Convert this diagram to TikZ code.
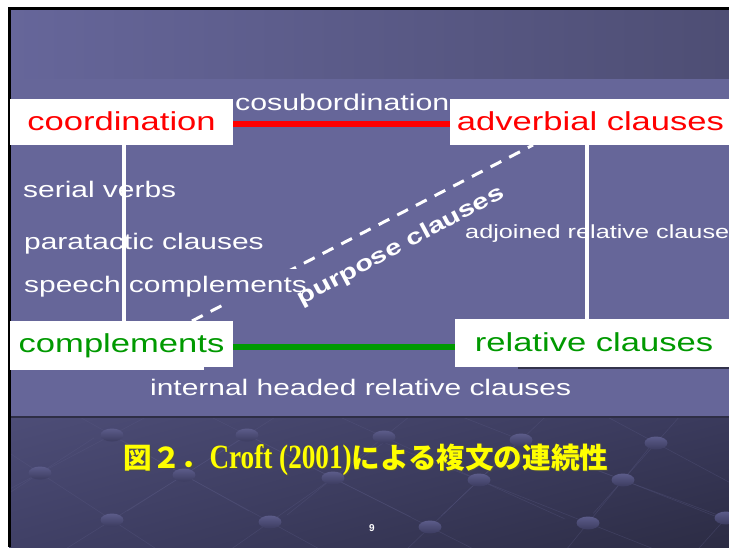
\documentclass[tikz,border=0pt]{standalone}
\usepackage{graphicx}
\usepackage{fontspec}
\setmainfont{Liberation Sans}
\newfontfamily\wsans[FakeStretch=1.33]{Liberation Sans}
\newfontfamily\cjk{Noto Sans CJK JP}
\newfontfamily\tserif[FakeStretch=0.8]{Liberation Serif}
\usetikzlibrary{calc,shadings}
\definecolor{panel}{HTML}{666699}
\definecolor{bandL}{HTML}{66669A}
\definecolor{bandR}{HTML}{4E4E74}
\definecolor{botUL}{HTML}{4D4D77}
\definecolor{botUR}{HTML}{3A3A5C}
\definecolor{botLL}{HTML}{404066}
\definecolor{botLR}{HTML}{2C2C44}
\definecolor{dotL}{HTML}{5C5C8A}
\definecolor{dotD}{HTML}{3C3C60}
\definecolor{gridln}{HTML}{5A5A84}
\definecolor{myred}{HTML}{FF0000}
\definecolor{mygreen}{HTML}{009900}
\definecolor{ttl}{HTML}{FFFF00}
\tikzset{
  boxlbl/.style={fill=white, inner sep=0pt, minimum height=46pt, text height=20pt, text depth=3pt, font=\wsans\fontsize{26}{30}\selectfont},
  wlbl/.style={text=white, inner sep=0pt, anchor=base west, font=\wsans\fontsize{22.5}{27}\selectfont},
  vline/.style={draw=white, line width=3.5pt},
  dashline/.style={draw=white, line width=3pt, dash pattern=on 12pt off 9pt},
  dotball/.style={top color=dotL, bottom color=dotD},
}
\begin{document}
\begin{tikzpicture}[x=1pt,y=-1pt]
\useasboundingbox (0,0) rectangle (729,547);
\fill[white] (0,0) rectangle (729,547);
% slide background
\shade[left color=bandL, right color=bandR] (9,8) rectangle (729,79);
\fill[panel] (9,79) rectangle (729,417);
\shade[upper left=botUL, upper right=botUR, lower left=botLL, lower right=botLR] (9,417) rectangle (729,547);
\fill[black!55!panel] (9,416) rectangle (729,417.5);
% lattice lines and dots in the lower band
\begin{scope}
\clip (9,418) rectangle (729,547);
\foreach \ax/\ay/\bx/\by in {112/435/184/475, 184/475/270/522, 247/435/333/478, 333/478/430/527,
  384/437/479/480, 479/480/588/523, 521/440/623/480, 623/480/726/518, 40/473/112/520, 656/443/740/488,
  247/435/184/475, 184/475/112/520, 384/437/333/478, 333/478/270/522, 521/440/479/480, 479/480/430/527,
  656/443/623/480, 623/480/588/523, 112/435/40/473, 40/473/-20/512, 726/518/700/547}
  {\draw[gridln, line width=0.6pt, opacity=0.35] ($(\ax,\ay)!-0.9!(\bx,\by)$) -- ($(\bx,\by)!-0.9!(\ax,\ay)$);}
\foreach \px/\py in {112/435, 247/435, 384/437, 521/440, 656/443,
  40/473, 184/475, 333/478, 479/480, 623/480,
  112/520, 270/522, 430/527, 588/523, 726/518}
  {\shade[dotball] (\px,\py) ellipse (11.5pt and 6.5pt);}
\end{scope}
% slide border
\fill[black] (8,7) rectangle (10.5,547);
\fill[black] (8,7) rectangle (729,9.5);
% free ends of connectors
\coordinate (v1) at (124,0);
\coordinate (v2) at (587,0);
\coordinate (d1) at (192,321);
\coordinate (d2) at (533,145);
% dashed purpose line (partly hidden behind text)
\draw[dashline] (d1) -- (d2);
% white labels
\node[wlbl, font=\wsans\fontsize{22.8}{26}\selectfont] (cosub) at (235,110) {cosubordination};
\node[wlbl] (serial) at (23,197) {serial verbs};
\node[wlbl] (parat) at (24,249) {paratactic clauses};
\node[wlbl, fill=panel, inner ysep=7pt, inner xsep=1pt] (speech) at (23,292) {speech complements};
\node[wlbl, font=\wsans\fontsize{19}{23}\selectfont] (adjoined) at (465,238) {adjoined relative clause};
\node[wlbl] (ihrc) at (150,395) {internal headed relative clauses};
\node[text=white, rotate=28, inner sep=0pt, font=\wsans\bfseries\fontsize{22}{26}\selectfont] (purpose) at (401,246) {purpose clauses};
% main boxes
\fill[white] (10,366) rectangle (204,370);
\draw[black!50!panel, line width=1.2pt] (518,368) -- (729,368);
\node[boxlbl, minimum width=223pt, text=myred] (coord) at (121.5,122) {coordination};
\node[boxlbl, minimum width=281pt, text=myred] (adv) at (590.5,122) {adverbial clauses};
\node[boxlbl, minimum width=223pt, text=mygreen] (comp) at (121.5,344) {complements};
\node[boxlbl, minimum width=278pt, minimum height=48pt, text=mygreen] (rel) at (594,343) {relative clauses};
% connectors
\coordinate (r1) at ($(coord.east)+(0,2)$);
\draw[myred, line width=6pt] (r1) -- (r1 -| adv.west);
\coordinate (g1) at ($(comp.east)+(0,3)$);
\draw[mygreen, line width=6pt] (g1) -- (g1 -| rel.west);
\draw[vline] (coord.south -| v1) -- (comp.north -| v1);
\draw[vline] (adv.south -| v2) -- (rel.north -| v2);
% caption
\node[text=black!70, anchor=base, inner sep=0pt, font=\fontsize{28.6}{32}\selectfont\bfseries] (ttlshadow) at (367.2,469.2)
  {{\cjk 図２．}{\tserif\fontsize{34}{36}\selectfont Croft (2001)}{\cjk による複文の連続性}};
\node[text=ttl, anchor=base, inner sep=0pt, font=\fontsize{28.6}{32}\selectfont\bfseries] (title) at (366,468)
  {{\cjk 図２．}{\tserif\fontsize{34}{36}\selectfont Croft (2001)}{\cjk による複文の連続性}};
\node[text=white, inner sep=0pt, font=\bfseries\fontsize{10}{12}\selectfont] (pnum) at (372,528) {9};
\end{tikzpicture}
\end{document}
